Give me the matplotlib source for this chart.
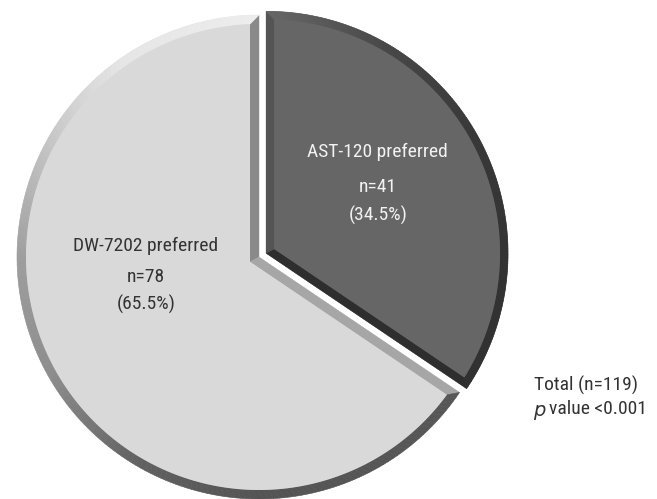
import numpy as np
import matplotlib
matplotlib.use("Agg")
import matplotlib.pyplot as plt
from matplotlib.patches import Polygon
from matplotlib import font_manager

# Patient preference counts
groups = ["AST-120 preferred", "DW-7202 preferred"]
counts = [41, 78]
percents = [34.5, 65.5]
total_n = 119
p_text = "value <0.001"

avail = {f.name for f in font_manager.fontManager.ttflist}
narrow = [f for f in ["Liberation Sans Narrow", "Roboto Condensed", "Roboto"] if f in avail]
FONT = narrow + ["DejaVu Sans"]

W, H = 657, 499
fig = plt.figure(figsize=(W / 100, H / 100), dpi=100)
ax = fig.add_axes([0, 0, 1, 1])

fills = ["#666666", "#d9d9d9"]
wedges, _ = ax.pie(counts, colors=fills, startangle=90, counterclock=False,
                   radius=242, center=(259, 242), explode=[8, 0],
                   wedgeprops=dict(linewidth=0), frame=True)
ax.set_xlim(0, W)
ax.set_ylim(0, H)
ax.set_aspect("auto")
ax.axis("off")


def lerp_color(stops, ang):
    angs = [s[0] for s in stops]
    vals = [s[1] for s in stops]
    g = np.interp(ang, angs, vals)
    return (g, g, g)


def bevel(w, d, col_start, col_end, rim_stops):
    cx, cy = w.center
    R = w.r
    a1, a2 = np.deg2rad(w.theta1), np.deg2rad(w.theta2)
    u1 = np.array([np.cos(a1), np.sin(a1)])
    u2 = np.array([np.cos(a2), np.sin(a2)])
    n1 = np.array([-u1[1], u1[0]])
    n2 = np.array([u2[1], -u2[0]])
    C = np.array([cx, cy])
    m = 0.5 * (a1 + a2)
    s = d / np.sin(0.5 * (a2 - a1))
    P = C + s * np.array([np.cos(m), np.sin(m)])
    t = np.sqrt((R - d) ** 2 - d ** 2)
    dl = np.arctan2(d, t)
    I1 = C + t * u1 + d * n1
    I2 = C + t * u2 + d * n2
    # straight-edge strips
    for u, I, col in [(u1, I1, col_start), (u2, I2, col_end)]:
        ax.add_patch(Polygon([C, C + R * u, I, P], closed=True,
                             facecolor=col, edgecolor=col, lw=0.3, zorder=3))
    # curved rim
    N = 180
    ko = np.linspace(a1, a2, N + 1)
    ki = np.linspace(a1 + dl, a2 - dl, N + 1)
    for k in range(N):
        o0 = C + R * np.array([np.cos(ko[k]), np.sin(ko[k])])
        o1 = C + R * np.array([np.cos(ko[k + 1]), np.sin(ko[k + 1])])
        i0 = C + (R - d) * np.array([np.cos(ki[k]), np.sin(ki[k])])
        i1 = C + (R - d) * np.array([np.cos(ki[k + 1]), np.sin(ki[k + 1])])
        ang = np.rad2deg(0.5 * (ko[k] + ko[k + 1])) % 360
        col = lerp_color(rim_stops, ang)
        ax.add_patch(Polygon([o0, o1, i1, i0], closed=True, facecolor=col,
                             edgecolor=col, lw=0.4, zorder=3))
    # inner face
    arc = [C + (R - d) * np.array([np.cos(a), np.sin(a)]) for a in ki]
    ax.add_patch(Polygon([P, I1] + arc + [I2], closed=True,
                         facecolor=w.get_facecolor(), edgecolor="none", zorder=4))


# dark slice: angles 0..90 and 325..360
bevel(wedges[0], 8, "#2e2e2e", "#545454",
      [(0, 0.20), (30, 0.22), (60, 0.28), (90, 0.40), (300, 0.18), (360, 0.20)])
# light slice: angles 90..325
bevel(wedges[1], 9, "#8a8a8a", "#a6a6a6",
      [(0, 0.35), (90, 0.93), (125, 0.90), (150, 0.78), (180, 0.62), (210, 0.55),
       (240, 0.38), (270, 0.33), (330, 0.34), (360, 0.35)])

fs = 14
light_txt = "#f2f2f2"
dark_txt = "#333333"
ax.text(377, H - 152, groups[0], ha="center", va="center", color=light_txt,
        fontsize=fs, family=FONT, zorder=6)
ax.text(378, H - 187, f"n={counts[0]}", ha="center", va="center", color=light_txt,
        fontsize=fs, family=FONT, zorder=6)
ax.text(378, H - 215, f"({percents[0]}%)", ha="center", va="center", color=light_txt,
        fontsize=fs, family=FONT, zorder=6)

ax.text(146, H - 246, groups[1], ha="center", va="center", color=dark_txt,
        fontsize=fs, family=FONT, zorder=6)
ax.text(146, H - 277, f"n={counts[1]}", ha="center", va="center", color=dark_txt,
        fontsize=fs, family=FONT, zorder=6)
ax.text(146, H - 304, f"({percents[1]}%)", ha="center", va="center", color=dark_txt,
        fontsize=fs, family=FONT, zorder=6)

ax.text(534, H - 385, f"Total (n={total_n})", ha="left", va="center", color=dark_txt,
        fontsize=fs, family=FONT)
ax.text(533, H - 410, "p", ha="left", va="center", color=dark_txt,
        fontsize=fs, family=["DejaVu Sans"], style="oblique")
ax.text(549, H - 409, p_text, ha="left", va="center", color=dark_txt,
        fontsize=fs, family=FONT)

fig.savefig("out.png", dpi=100, facecolor="white")
